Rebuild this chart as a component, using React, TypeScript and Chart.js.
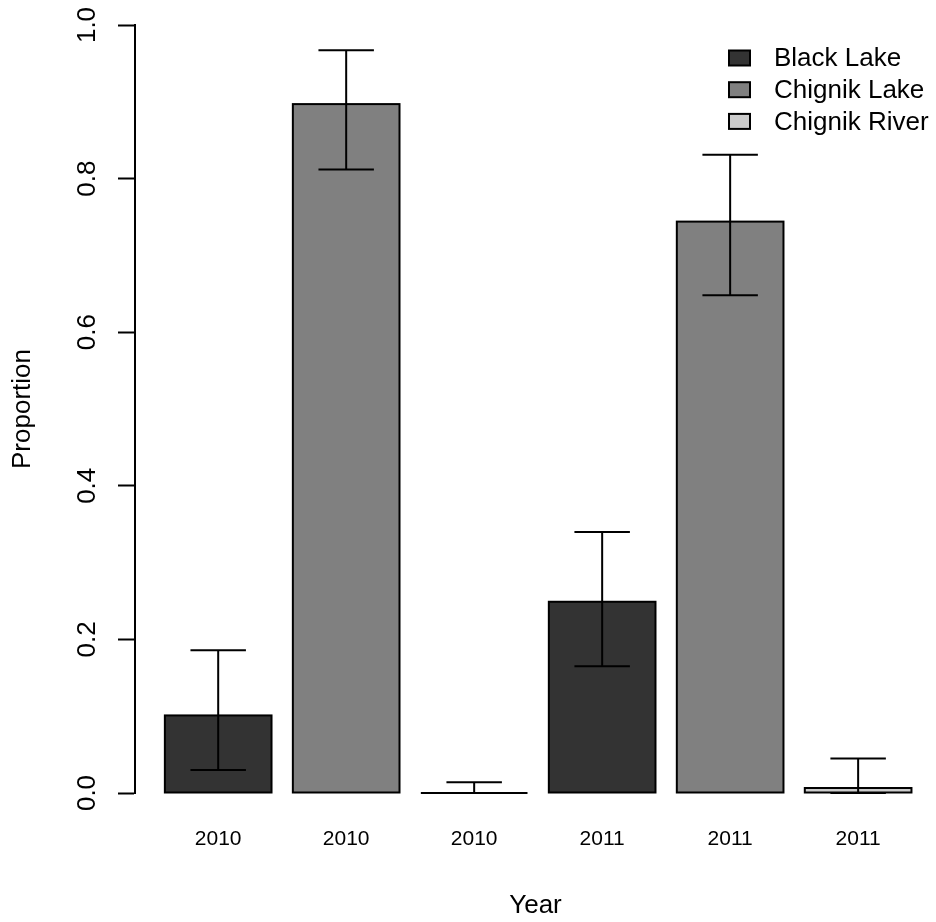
import React, { useEffect, useRef } from "react";
import { Chart, registerables } from "chart.js";

Chart.register(...registerables);

// Sites (legend order) and their fill shades
const sites = ["Black Lake", "Chignik Lake", "Chignik River"];
const siteColors = ["#333333", "#808080", "#cccccc"];

// One bar per year/site combination, in plotting order
const barYears = ["2010", "2010", "2010", "2011", "2011", "2011"];
const barSite = [0, 1, 2, 0, 1, 2];
const proportions = [0.101, 0.897, 0.0, 0.249, 0.744, 0.0065];
const lowerCI = [0.03, 0.812, 0.0, 0.165, 0.648, 0.0];
const upperCI = [0.186, 0.967, 0.014, 0.34, 0.831, 0.045];

const yTicks = [0, 0.2, 0.4, 0.6, 0.8, 1.0];

const FONT = "'Liberation Sans', Arial, Helvetica, sans-serif";

// barplot-style placement: unit-wide bars separated by 0.2 of a bar
const BAR_SPACE = 0.2;
const barCenter = (i: number) => BAR_SPACE + 0.5 + i * (1 + BAR_SPACE);

const outlinePlugin = {
  id: "barOutline",
  afterDatasetsDraw(chart: any) {
    const { ctx } = chart;
    ctx.save();
    ctx.strokeStyle = "#000";
    ctx.lineWidth = 2;
    chart.data.datasets.forEach((_: any, di: number) => {
      const meta = chart.getDatasetMeta(di);
      meta.data.forEach((el: any) => {
        const { x, y, base, width } = el.getProps(["x", "y", "base", "width"], true);
        ctx.strokeRect(x - width / 2, y, width, base - y);
      });
    });
    ctx.restore();
  },
};

const errorBarPlugin = {
  id: "errorBars",
  afterDatasetsDraw(chart: any) {
    const { ctx, scales } = chart;
    const xs = scales.x;
    const ys = scales.y;
    ctx.save();
    ctx.strokeStyle = "#000";
    ctx.lineWidth = 2;
    ctx.lineCap = "butt";
    barYears.forEach((_, i) => {
      const c = barCenter(i);
      const x = xs.getPixelForValue(c);
      const half = xs.getPixelForValue(c + 0.26) - x;
      const yl = ys.getPixelForValue(lowerCI[i]);
      const yu = ys.getPixelForValue(upperCI[i]);
      ctx.beginPath();
      ctx.moveTo(x, yl);
      ctx.lineTo(x, yu);
      ctx.moveTo(x - half, yu);
      ctx.lineTo(x + half, yu);
      ctx.moveTo(x - half, yl);
      ctx.lineTo(x + half, yl);
      ctx.stroke();
    });
    ctx.restore();
  },
};

const legendPlugin = {
  id: "siteLegend",
  afterDraw(chart: any) {
    const { ctx, chartArea } = chart;
    ctx.save();
    ctx.font = `26px ${FONT}`;
    ctx.textBaseline = "middle";
    ctx.textAlign = "left";
    sites.forEach((name, k) => {
      const cy = chartArea.top + 33 + k * 31.7;
      const bx = chartArea.right - 207;
      ctx.fillStyle = siteColors[k];
      ctx.fillRect(bx, cy - 7.5, 21, 15);
      ctx.strokeStyle = "#000";
      ctx.lineWidth = 2;
      ctx.strokeRect(bx, cy - 7.5, 21, 15);
      ctx.fillStyle = "#000";
      ctx.fillText(name, chartArea.right - 162, cy + 1);
    });
    ctx.restore();
  },
};

export default function App() {
  const canvasRef = useRef<HTMLCanvasElement | null>(null);

  useEffect(() => {
    if (!canvasRef.current) return;
    Chart.defaults.font.family = FONT;
    Chart.defaults.color = "#000";

    const datasets = sites.map((name, s) => ({
      label: name,
      backgroundColor: siteColors[s],
      borderWidth: 0,
      data: barYears
        .map((_, i) => i)
        .filter((i) => barSite[i] === s)
        .map((i) => ({ x: barCenter(i), y: proportions[i] })),
    }));

    const chart = new Chart(canvasRef.current, {
      type: "bar",
      data: { datasets },
      options: {
        animation: false,
        responsive: false,
        maintainAspectRatio: false,
        layout: { padding: { top: 25, right: 0, bottom: 0, left: 0 } },
        datasets: {
          bar: {
            grouped: false,
            categoryPercentage: 1,
            barPercentage: 1 / (1 + BAR_SPACE),
          },
        },
        plugins: {
          legend: { display: false },
          tooltip: { enabled: false },
        },
        scales: {
          x: {
            type: "linear",
            offset: false,
            min: -0.08,
            max: 7.43,
            grid: { display: false, drawTicks: false, offset: false },
            border: { display: false },
            afterBuildTicks: (scale: any) => {
              scale.ticks = barYears.map((_, i) => ({ value: barCenter(i) }));
            },
            ticks: {
              autoSkip: false,
              maxRotation: 0,
              minRotation: 0,
              padding: 34,
              font: { size: 21, family: FONT },
              color: "#000",
              callback: (_v: any, idx: number) => barYears[idx],
            },
            title: {
              display: true,
              text: "Year",
              font: { size: 26, family: FONT },
              color: "#000",
              padding: { top: 0, bottom: 1 },
            },
            afterFit: (scale: any) => {
              scale.height = 129;
              scale.paddingLeft = 0;
              scale.paddingRight = 0;
            },
          },
          y: {
            min: 0,
            max: 1,
            afterBuildTicks: (scale: any) => {
              scale.ticks = yTicks.map((v) => ({ value: v }));
            },
            ticks: {
              minRotation: 90,
              maxRotation: 90,
              crossAlign: "center",
              padding: 12,
              font: { size: 26, family: FONT },
              color: "#000",
              callback: (v: any) => Number(v).toFixed(1),
            },
            grid: {
              display: true,
              drawOnChartArea: false,
              drawTicks: true,
              tickLength: 17,
              tickWidth: 2,
              tickColor: "#000",
            },
            border: { display: true, color: "#000", width: 2 },
            title: {
              display: true,
              text: "Proportion",
              font: { size: 26, family: FONT },
              color: "#000",
              padding: { top: 7, bottom: 0 },
            },
            afterFit: (scale: any) => {
              scale.width = 135;
              scale.paddingTop = 0;
              scale.paddingBottom = 0;
            },
          },
        },
      },
      plugins: [outlinePlugin, errorBarPlugin, legendPlugin],
    } as any);

    return () => chart.destroy();
  }, []);

  return (
    <div style={{ position: "absolute", left: 0, top: 0, width: 936, height: 922, background: "#fff" }}>
      <canvas ref={canvasRef} width={936} height={922} />
    </div>
  );
}
